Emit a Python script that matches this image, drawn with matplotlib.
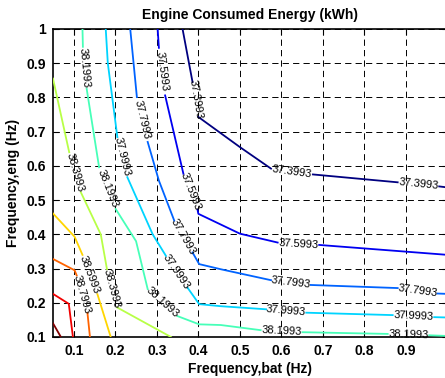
import numpy as np
import matplotlib
matplotlib.use('Agg')
import matplotlib.pyplot as plt

# contour levels (kWh)
levels = [37.3993, 37.5993, 37.7993, 37.9993, 38.1993,
          38.3993, 38.5993, 38.7993, 38.9993, 39.1993]

nan = np.nan
# contour paths, nan marks where an inline label sits
c1_x = [0.362, 0.386, nan, 0.400, 0.500, 0.575, nan, 0.676, 0.880, nan, 0.980, 1.000]
c1_y = [1.000, 0.845, nan, 0.743, 0.655, 0.592, nan, 0.575, 0.552, nan, 0.540, 0.537]

c2_x = [0.302, 0.305, nan, 0.320, 0.364, nan, 0.398, 0.400, 0.500, 0.591, nan, 0.691, 1.000]
c2_y = [1.000, 0.945, nan, 0.806, 0.577, nan, 0.472, 0.460, 0.402, 0.376, nan, 0.369, 0.340]

c3_x = [0.236, 0.252, nan, 0.278, 0.305, 0.342, nan, 0.386, 0.402, 0.454, 0.575, nan, 0.671, 0.880, nan, 0.976, 1.000]
c3_y = [1.000, 0.801, nan, 0.670, 0.557, 0.440, nan, 0.347, 0.313, 0.298, 0.266, nan, 0.252, 0.243, nan, 0.227, 0.226]

c4_x = [0.177, 0.182, 0.205, nan, 0.229, 0.290, 0.322, nan, 0.374, 0.402, 0.454, 0.563, nan, 0.660, 0.868, nan, 0.968, 1.000]
c4_y = [1.000, 0.900, 0.684, nan, 0.567, 0.400, 0.337, nan, 0.244, 0.196, 0.190, 0.181, nan, 0.171, 0.164, nan, 0.158, 0.157]

c5_x = [0.121, 0.122, nan, 0.131, 0.161, nan, 0.201, 0.250, 0.278, nan, 0.350, 0.402, 0.454, 0.550, nan, 0.651, 0.856, nan, 0.956, 1.000]
c5_y = [1.000, 0.948, nan, 0.826, 0.596, nan, 0.474, 0.380, 0.240, nan, 0.161, 0.137, 0.135, 0.120, nan, 0.114, 0.109, nan, 0.105, 0.103]

c6_x = [0.050, 0.089, nan, 0.117, 0.165, 0.180, nan, 0.205, 0.334]
c6_y = [0.855, 0.640, nan, 0.523, 0.400, 0.298, nan, 0.186, 0.100]

c7_x = [0.050, 0.102, 0.121, nan, 0.157, 0.189]
c7_y = [0.461, 0.393, 0.340, nan, 0.225, 0.100]

c8_x = [0.050, 0.102, 0.107, nan, 0.133, 0.139]
c8_y = [0.328, 0.295, 0.280, nan, 0.170, 0.100]

c9_x = [0.050, 0.088, 0.098]
c9_y = [0.226, 0.197, 0.100]

c10_x = [0.050, 0.069]
c10_y = [0.140, 0.100]

paths = [(c1_x, c1_y), (c2_x, c2_y), (c3_x, c3_y), (c4_x, c4_y), (c5_x, c5_y),
         (c6_x, c6_y), (c7_x, c7_y), (c8_x, c8_y), (c9_x, c9_y), (c10_x, c10_y)]

x_ticks = [0.1, 0.2, 0.3, 0.4, 0.5, 0.6, 0.7, 0.8, 0.9]
x_tick_labels = ['0.1', '0.2', '0.3', '0.4', '0.5', '0.6', '0.7', '0.8', '0.9']
y_ticks = [0.1, 0.2, 0.3, 0.4, 0.5, 0.6, 0.7, 0.8, 0.9, 1.0]
y_tick_labels = ['0.1', '0.2', '0.3', '0.4', '0.5', '0.6', '0.7', '0.8', '0.9', '1']


def matlab_jet(t):
    # the old matlab jet, a bit different from matplotlib's one
    r = np.interp(t, [0, 0.375, 0.625, 0.875, 1], [0, 0, 1, 1, 0.5])
    g = np.interp(t, [0, 0.125, 0.375, 0.625, 0.875, 1], [0, 0, 1, 1, 0, 0])
    b = np.interp(t, [0, 0.125, 0.375, 0.625, 1], [0.5, 1, 1, 0, 0])
    return (r, g, b)


plt.rcParams['font.family'] = ['Liberation Sans', 'DejaVu Sans']
plt.rcParams['lines.scale_dashes'] = False

fig = plt.figure(figsize=(4.45, 3.78), dpi=100)
ax = fig.add_axes([53 / 445, 41 / 378, 394.5 / 445, 308 / 378])
ax.set_xlim(0.05, 1.0)
ax.set_ylim(0.1, 1.0)

colors = [matlab_jet(t) for t in np.linspace(0, 1, len(levels))]

for lvl, (px, py), col in zip(levels, paths, colors):
    ax.plot(px, py, color=col, linewidth=1.3, zorder=3)
    # inline labels in the gaps
    for i in range(1, len(px) - 1):
        if np.isnan(px[i]):
            x0, y0 = px[i - 1], py[i - 1]
            x1, y1 = px[i + 1], py[i + 1]
            d0 = ax.transData.transform((x0, y0))
            d1 = ax.transData.transform((x1, y1))
            ang = np.degrees(np.arctan2(d1[1] - d0[1], d1[0] - d0[0]))
            if ang >= 90:
                ang -= 180
            if ang < -90:
                ang += 180
            ax.text((x0 + x1) / 2, (y0 + y1) / 2, '%.4f' % lvl, fontsize=8,
                    rotation=ang, rotation_mode='anchor', ha='center', va='center',
                    color='k', zorder=4)

ax.set_xticks(x_ticks)
ax.set_xticklabels(x_tick_labels)
ax.set_yticks(y_ticks)
ax.set_yticklabels(y_tick_labels)
ax.tick_params(direction='in', top=True, right=True, length=4, width=0.8,
               labelsize=10, pad=5)
for lab in ax.get_xticklabels() + ax.get_yticklabels():
    lab.set_fontweight('bold')

ax.grid(True, color='k', linestyle=(0, (4.5, 3)), linewidth=0.7)
for s in ax.spines.values():
    s.set_linewidth(1.2)

ax.set_title('Engine Consumed Energy (kWh)', fontsize=10, fontweight='bold', pad=7)
ax.set_xlabel('Frequency,bat (Hz)', fontsize=10, fontweight='bold', labelpad=3)
ax.set_ylabel('Frequency,eng (Hz)', fontsize=10, fontweight='bold', labelpad=5)

fig.savefig('out.png', dpi=100)
